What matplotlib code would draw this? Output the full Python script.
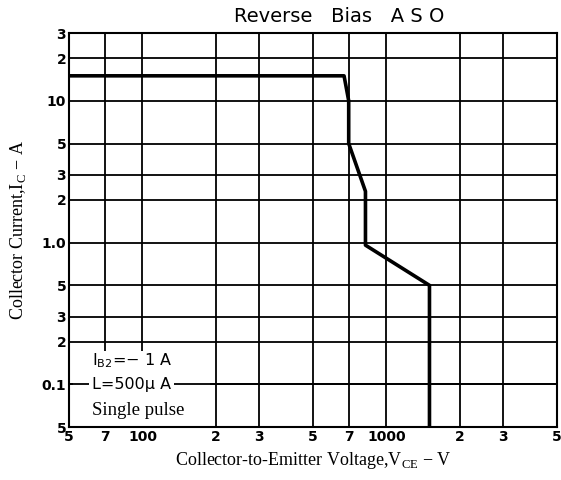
import matplotlib.pyplot as plt
from matplotlib.patches import Rectangle
from matplotlib.ticker import FixedLocator, NullLocator

# ASO boundary (VCE in V, IC in A)
vce = [50, 670, 700, 700, 820, 820, 1500, 1500]
ic = [15, 15, 10, 5, 2.3, 0.96, 0.5, 0.05]

x_ticks = [50, 70, 100, 200, 300, 500, 700, 1000, 2000, 3000, 5000]
x_labels = ["5", "7", "100", "2", "3", "5", "7", "1000", "2", "3", "5"]
y_ticks = [0.05, 0.1, 0.2, 0.3, 0.5, 1, 2, 3, 5, 10, 20, 30]
y_labels = ["5", "0.1", "2", "3", "5", "1.0", "2", "3", "5", "10", "2", "3"]

notes = ["I$_{\\mathregular{B2}}$=\u2212 1 A", "L=500\u03bc A", "Single pulse"]

fig = plt.figure(figsize=(5.61, 4.80), dpi=100)
ax = fig.add_axes([0.123, 0.110, 0.870, 0.821])
ax.set_xscale("log")
ax.set_yscale("log")
ax.set_xlim(50, 5000)
ax.set_ylim(0.05, 30)

ax.xaxis.set_major_locator(FixedLocator(x_ticks))
ax.xaxis.set_minor_locator(NullLocator())
ax.yaxis.set_major_locator(FixedLocator(y_ticks))
ax.yaxis.set_minor_locator(NullLocator())
ax.set_xticklabels(x_labels, fontsize=10, fontweight="bold")
ax.set_yticklabels(y_labels, fontsize=10, fontweight="bold")
ax.tick_params(length=0, pad=2)
ax.grid(True, color="black", linewidth=1.3)
ax.set_axisbelow(True)
for s in ax.spines.values():
    s.set_linewidth(1.5)
    s.set_zorder(5)

ax.plot(vce, ic, color="black", linewidth=2.6, zorder=3)

# white panel behind the conditions, with the 0.1 A line showing through
ax.add_patch(Rectangle((0.008, 0.004), 0.28, 0.19, transform=ax.transAxes,
                       facecolor="white", edgecolor="none", zorder=2.5))
ax.axhline(0.1, color="black", linewidth=1.3, zorder=2.6)

ax.text(62, 0.148, notes[0], fontsize=11.5, va="center", ha="left", zorder=4)
ax.text(62, 0.1, notes[1], fontsize=11.5, va="center", ha="left",
        bbox=dict(facecolor="white", edgecolor="none", pad=2), zorder=4)
ax.text(62, 0.066, notes[2], fontsize=13.5, va="center", ha="left",
        family="Liberation Serif", zorder=4)

fig.text(0.605, 0.955, "Reverse   Bias   A S O", fontsize=14, ha="center")
ax.set_xlabel("Collector-to-Emitter Voltage,V$_{\\mathregular{CE}}$ \u2212 V",
              family="Liberation Serif", fontsize=13, labelpad=4)
ax.set_ylabel("Collector Current,I$_{\\mathregular{C}}$ \u2212 A",
              family="Liberation Serif", fontsize=13, labelpad=10)

fig.savefig("out.png", dpi=100)
